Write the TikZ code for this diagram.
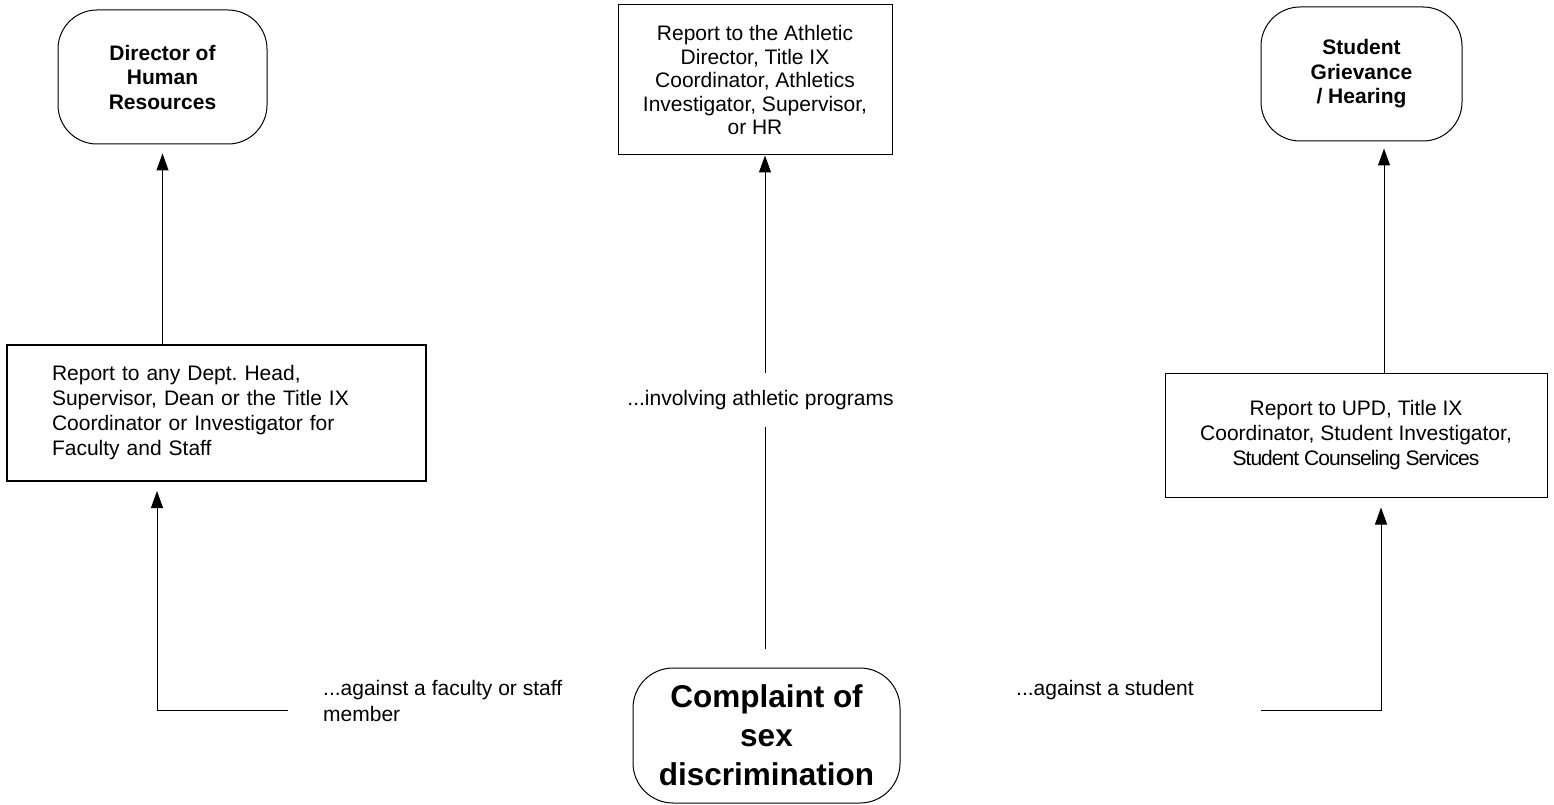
\documentclass[tikz,border=0pt]{standalone}
\usepackage{fontspec}
\setmainfont{Liberation Sans}
\usetikzlibrary{positioning,arrows.meta}
\frenchspacing

\tikzset{
	txt/.style={font=\fontsize{21}{24.5}\selectfont},
	terminal/.style={draw, line width=1pt, rounded corners=39pt, align=center, inner sep=0pt, font=\fontsize{21}{24.5}\selectfont\bfseries},
	report/.style={txt, draw, line width=1pt, align=center, inner sep=0pt},
	note/.style={txt, align=left, inner sep=0pt},
	wire/.style={line width=1pt},
	flow/.style={line width=1pt, -{Triangle[width=12pt,length=17pt]}},
}

\begin{document}
\begin{tikzpicture}[x=1pt, y=-1pt]
	\useasboundingbox (0,0) rectangle (1554,805);

	\node[terminal, minimum width=209pt, minimum height=134pt] (dirhr) at (162.5,77) {Director of\\Human\\Resources};
	\node[terminal, minimum width=201pt, minimum height=134pt] (stugriev) at (1361.5,74) {Student\\Grievance\\/ Hearing};
	\node[terminal, minimum width=267pt, minimum height=135pt, rounded corners=40pt, font=\fontsize{31.5}{39}\selectfont\bfseries] (complaint) at (766.5,735.5) {Complaint of\\sex\\discrimination};

	\node[report, minimum width=274pt, minimum height=150pt, font=\fontsize{21}{23.5}\selectfont] (athbox) at (755,80) {Report to the Athletic\\Director, Title IX\\Coordinator, Athletics\\Investigator, Supervisor,\\or HR};
	\node[report, line width=2pt, align=left, text width=329pt, inner xsep=45pt, minimum height=136pt, font=\fontsize{21}{25}\selectfont] (facbox) at (216.5,413) {Report to any Dept. Head,\\Supervisor, Dean or the Title IX\\Coordinator or Investigator for\\Faculty and Staff};
	\node[report, minimum width=382pt, minimum height=124pt, font=\fontsize{21}{25}\selectfont] (stubox) at (1356,435) {Report to UPD, Title IX\\Coordinator, Student Investigator,\\{\addfontfeature{LetterSpace=-4.5}Student Counseling Services}};

	% Labels
	\node[txt, inner xsep=0pt, inner ysep=17pt] (athnote) at (760.5,400) {...involving athletic programs};
	\node[note, anchor=north west, font=\fontsize{21}{26}\selectfont] (facnote) at (323,680) {...against a faculty or staff\\member};
	\node[note, anchor=north west] (stunote) at (1016,680) {...against a student};

	\coordinate (facin) at (288,710);
	\coordinate (facturn) at (157,710);
	\coordinate (stuin) at (1261,710);
	\coordinate (stuturn) at (1381,710);
	\coordinate (athlow) at (765,649);

	\draw[flow, shorten >=9pt] (dirhr.south |- facbox.north) -- (dirhr.south);
	\draw[flow, shorten >=9pt] (facin) -- (facturn) -- (facturn |- facbox.south);
	\draw[wire] (athlow) -- (athlow |- athnote.south);
	\draw[flow] (athlow |- athnote.north) -- (athlow |- athbox.south);
	\draw[flow, shorten >=10pt] (stuin) -- (stuturn) -- (stuturn |- stubox.south);
	\draw[flow, shorten >=7pt] ([xshift=28pt]stubox.north) -- ([xshift=28pt]stubox.north |- stugriev.south);
\end{tikzpicture}
\end{document}
